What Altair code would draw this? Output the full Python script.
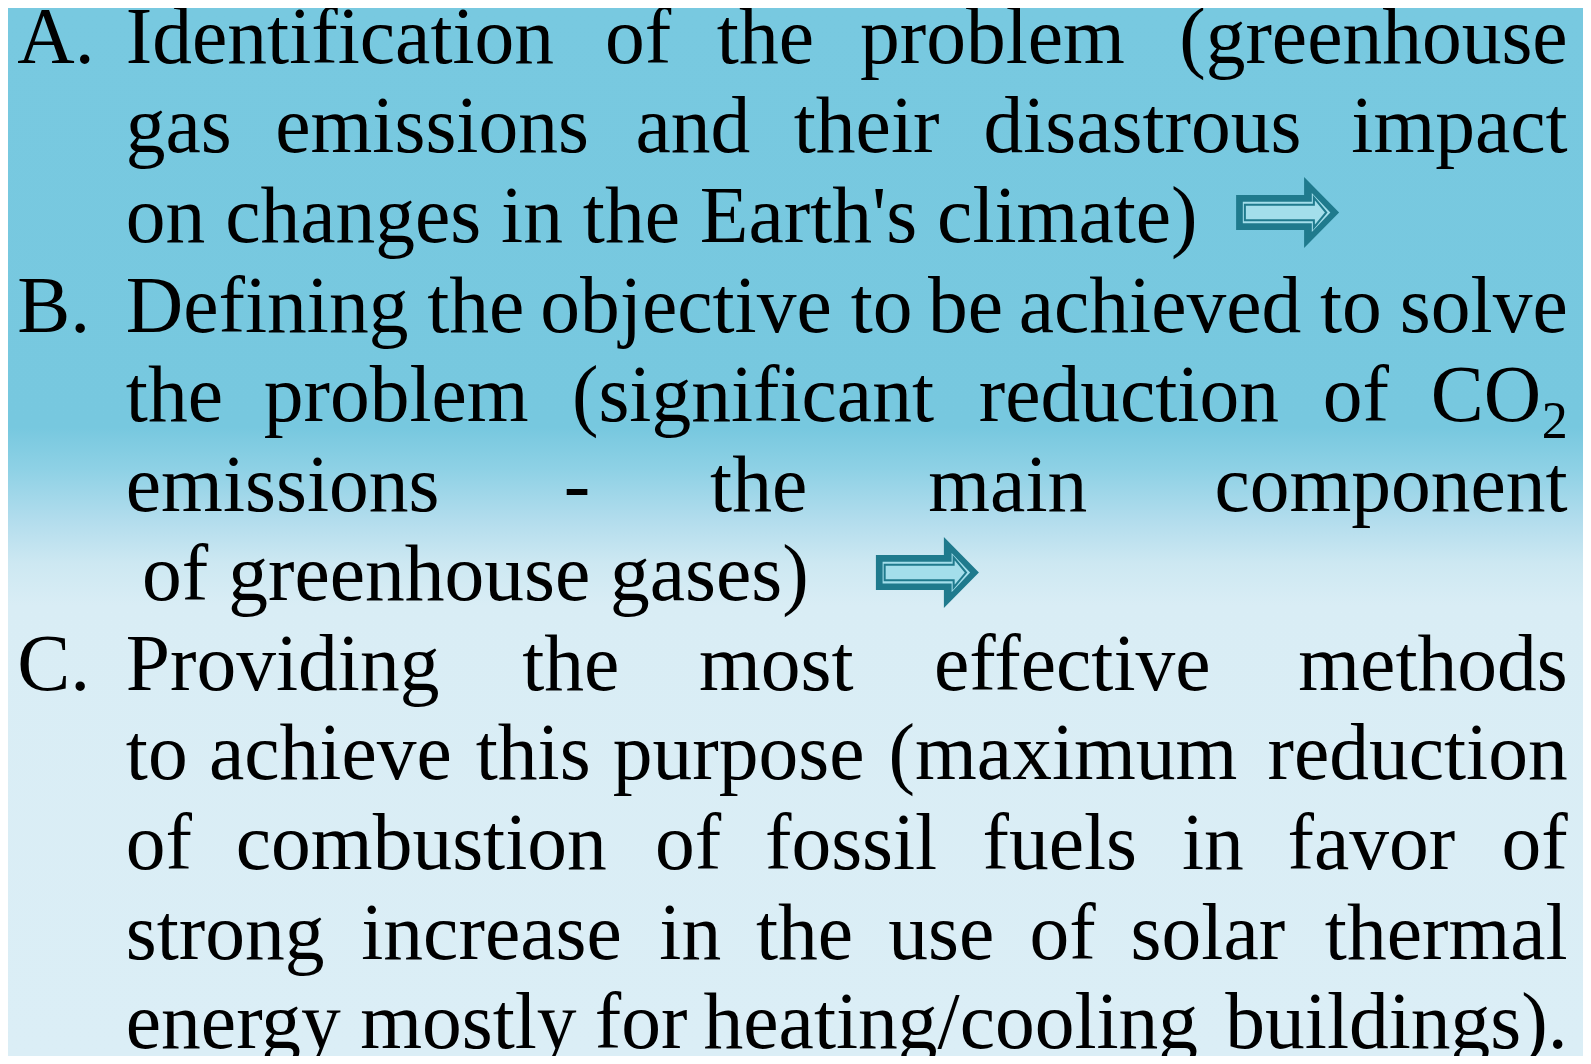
import altair as alt
import pandas as pd

# ---- content (text of the slide) ----
labels = ["A.", "B.", "C."]
label_line = [0, 3, 7]

lines = [
    "Identification of the problem (greenhouse",
    "gas emissions and their disastrous impact",
    "on changes in the Earth's climate)",
    "Defining the objective to be achieved to solve",
    "the problem (significant reduction of CO",
    "emissions - the main component",
    "of greenhouse gases)",
    "Providing the most effective methods",
    "to achieve this purpose (maximum reduction",
    "of combustion of fossil fuels in favor of",
    "strong increase in the use of solar thermal",
    "energy mostly for heating/cooling buildings).",
]
justified = [True, True, False, True, True, True, False, True, True, True, True, True]
subscript_text = "2"
subscript_line = 4
arrow_after_line = [2, 6]

# ---- layout (slide coordinates) ----
LEFT = 124
RIGHT = 1545
line_start = {6: 140}
LABEL_X = 17
BASE0 = 62.0
STEP = 88.3
SUB_DY = 17
arrow_xy = [(1269, 209.5), (914, 564.5)]

FONT = "Liberation Serif"
FS = 79.5
FS_SUB = 52

# Times / Liberation Serif advance widths (per 1000 em)
TW = {" ": 250, "'": 180, "(": 333, ")": 333, "-": 333, ".": 250, "/": 278, "2": 500,
      "A": 722, "B": 667, "C": 667, "D": 722, "E": 611, "I": 333, "O": 722, "P": 556,
      "a": 444, "b": 500, "c": 444, "d": 500, "e": 444, "f": 333, "g": 500, "h": 500,
      "i": 278, "j": 278, "k": 500, "l": 278, "m": 778, "n": 500, "o": 500, "p": 500,
      "q": 500, "r": 333, "s": 389, "t": 278, "u": 500, "v": 500, "w": 722, "x": 500,
      "y": 500, "z": 444}


def tw(s, size):
    return sum(TW.get(c, 500) for c in s) * size / 1000.0


rows_l, rows_r = [], []
sub_rows = []
for i, line in enumerate(lines):
    y = BASE0 + STEP * i
    x0 = line_start.get(i, LEFT)
    if not justified[i]:
        rows_l.append({"t": line, "x": x0, "y": y})
        continue
    words = line.split(" ")
    widths = [tw(w, FS) for w in words]
    extra = tw(subscript_text, FS_SUB) if i == subscript_line else 0.0
    gap = (RIGHT - x0 - sum(widths) - extra) / (len(words) - 1)
    x = x0
    for k, (w, wd) in enumerate(zip(words, widths)):
        if k == len(words) - 1:
            rows_r.append({"t": w, "x": RIGHT - extra, "y": y})
        else:
            rows_l.append({"t": w, "x": x, "y": y})
        x += wd + gap
    if i == subscript_line:
        sub_rows.append({"t": subscript_text, "x": RIGHT, "y": y + SUB_DY})
for lab, li in zip(labels, label_line):
    rows_l.append({"t": lab, "x": LABEL_X, "y": BASE0 + STEP * li})

df_l = pd.DataFrame(rows_l)
df_r = pd.DataFrame(rows_r)
df_sub = pd.DataFrame(sub_rows)
df_arrow = pd.DataFrame([{"x": x, "y": y, "line": l} for (x, y), l in zip(arrow_xy, arrow_after_line)])

W, H = 1575, 1048
xs = alt.Scale(domain=[0, 1568], range=[-8, 1583])
ys = alt.Scale(domain=[0, 1049], range=[-8, 1056])


def X():
    return alt.X("x:Q", scale=xs, axis=None)


def Y():
    return alt.Y("y:Q", scale=ys, axis=None)


bg = alt.Chart(pd.DataFrame({"a": [0]})).mark_rect(
    fill=alt.Gradient(
        gradient="linear", x1=0, y1=0, x2=0, y2=1,
        stops=[
            alt.GradientStop(color="#78c9e0", offset=0.0),
            alt.GradientStop(color="#77c8df", offset=0.40),
            alt.GradientStop(color="#8ed1e5", offset=0.44),
            alt.GradientStop(color="#b3dded", offset=0.49),
            alt.GradientStop(color="#cde8f2", offset=0.53),
            alt.GradientStop(color="#d9edf5", offset=0.57),
            alt.GradientStop(color="#dbeef6", offset=1.0),
        ],
    )
).encode(x=alt.value(0), x2=alt.value(W), y=alt.value(0), y2=alt.value(H))

txt_l = alt.Chart(df_l).mark_text(
    align="left", baseline="alphabetic", font=FONT, fontSize=FS, color="black"
).encode(x=X(), y=Y(), text="t:N")

txt_r = alt.Chart(df_r).mark_text(
    align="right", baseline="alphabetic", font=FONT, fontSize=FS, color="black"
).encode(x=X(), y=Y(), text="t:N")

txt_sub = alt.Chart(df_sub).mark_text(
    align="right", baseline="alphabetic", font=FONT, fontSize=FS_SUB, color="black"
).encode(x=X(), y=Y(), text="t:N")

outer = "M -1 -0.34 L 0.32 -0.34 L 0.32 -0.69 L 1 0 L 0.32 0.69 L 0.32 0.34 L -1 0.34 Z"
middle = "M -0.87 -0.21 L 0.47 -0.21 L 0.47 -0.38 L 0.83 0 L 0.47 0.38 L 0.47 0.21 L -0.87 0.21 Z"
inner = "M -0.83 -0.15 L 0.51 -0.15 L 0.51 -0.29 L 0.75 0 L 0.51 0.29 L 0.51 0.15 L -0.83 0.15 Z"
ASZ = 103 ** 2

a1 = alt.Chart(df_arrow).mark_point(
    shape=outer, size=ASZ, filled=True, fill="#1f7a8d", strokeWidth=0, opacity=1
).encode(x=X(), y=Y())
a2 = alt.Chart(df_arrow).mark_point(
    shape=middle, size=ASZ, filled=True, fill="#a3deeb", strokeWidth=0, opacity=1
).encode(x=X(), y=Y())
a3 = alt.Chart(df_arrow).mark_point(
    shape=inner, size=ASZ, filled=True, fill="#a3deeb", stroke="#1f7a8d", strokeWidth=2, opacity=1
).encode(x=X(), y=Y())

chart = alt.layer(bg, a1, a2, a3, txt_l, txt_r, txt_sub).properties(
    width=W, height=H, autosize=alt.AutoSizeParams(type="none"), padding=0
).configure_view(stroke=None, clip=False).configure(background="white")

chart.save("out.html", embed_options={"renderer": "svg", "actions": False})
